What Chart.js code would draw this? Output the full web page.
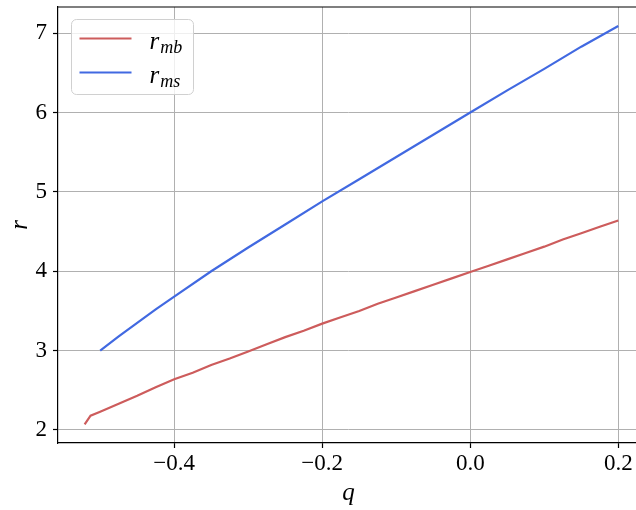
<!DOCTYPE html>
<html>
<head>
<meta charset="utf-8">
<script src="https://cdn.jsdelivr.net/npm/chart.js@4"></script>
<style>
  html, body { margin: 0; padding: 0; background: #fff; overflow: hidden; width: 636px; height: 510px; }
  #wrap { width: 645px; height: 510px; }
</style>
</head>
<body>
<div id="wrap"><canvas id="c" width="645" height="510"></canvas></div>
<script>
// ---- data ----
const rmbQ = [-0.521, -0.513, -0.5, -0.475, -0.45, -0.425, -0.4, -0.375, -0.35, -0.325, -0.3, -0.275, -0.25, -0.225, -0.2, -0.175, -0.15, -0.125, -0.1, -0.075, -0.05, -0.025, 0.0, 0.025, 0.05, 0.075, 0.1, 0.125, 0.15, 0.175, 0.2];
const rmbR = [2.07, 2.18, 2.23, 2.33, 2.43, 2.54, 2.64, 2.72, 2.82, 2.90, 2.99, 3.08, 3.17, 3.25, 3.34, 3.42, 3.50, 3.59, 3.67, 3.75, 3.83, 3.91, 3.99, 4.07, 4.15, 4.23, 4.31, 4.40, 4.48, 4.56, 4.64];
const rmsQ = [-0.5, -0.475, -0.45, -0.425, -0.4, -0.35, -0.3, -0.25, -0.2, -0.15, -0.1, -0.05, 0.0, 0.05, 0.1, 0.15, 0.2];
const rmsR = [3.00, 3.18, 3.35, 3.52, 3.68, 4.00, 4.30, 4.59, 4.88, 5.16, 5.44, 5.72, 6.00, 6.28, 6.55, 6.83, 7.09];
const xTicks = [-0.4, -0.2, 0.0, 0.2];
const yTicks = [2, 3, 4, 5, 6, 7];
const seriesLabels = ['r_mb', 'r_ms'];
const xTitle = 'q';
const yTitle = 'r';

const FONT = "'Liberation Serif', 'Times New Roman', serif";
const toPts = (qs, rs) => qs.map((q, i) => ({ x: q, y: rs[i] }));

const frame = {
  id: 'frame',
  afterDatasetsDraw(chart) {
    const { ctx, chartArea: a } = chart;
    ctx.save();
    ctx.strokeStyle = '#000';
    ctx.lineWidth = 1.2;
    ctx.beginPath();
    ctx.moveTo(a.left, a.top);
    ctx.lineTo(a.right, a.top);
    ctx.stroke();
    ctx.restore();
  }
};

const legendPlugin = {
  id: 'mplLegend',
  afterDraw(chart) {
    const { ctx, chartArea: a } = chart;
    const x0 = a.left + 13.5, y0 = a.top + 12.5, w = 122, h = 75, r = 5;
    ctx.save();
    ctx.beginPath();
    ctx.moveTo(x0 + r, y0);
    ctx.arcTo(x0 + w, y0, x0 + w, y0 + h, r);
    ctx.arcTo(x0 + w, y0 + h, x0, y0 + h, r);
    ctx.arcTo(x0, y0 + h, x0, y0, r);
    ctx.arcTo(x0, y0, x0 + w, y0, r);
    ctx.closePath();
    ctx.fillStyle = 'rgba(255,255,255,0.8)';
    ctx.fill();
    ctx.strokeStyle = '#d0d0d0';
    ctx.lineWidth = 1;
    ctx.stroke();
    chart.data.datasets.forEach((ds, i) => {
      const ly = y0 + 19 + i * 34;
      ctx.strokeStyle = ds.borderColor;
      ctx.lineWidth = 2.2;
      ctx.beginPath();
      ctx.moveTo(x0 + 8, ly);
      ctx.lineTo(x0 + 60, ly);
      ctx.stroke();
      const [base, sub] = ds.label.split('_');
      ctx.fillStyle = '#000';
      ctx.textBaseline = 'alphabetic';
      ctx.textAlign = 'left';
      ctx.font = 'italic 25px ' + FONT;
      const tx = x0 + 78;
      ctx.fillText(base, tx, ly + 10);
      const bw = ctx.measureText(base).width;
      ctx.font = 'italic 18px ' + FONT;
      ctx.fillText(sub, tx + bw + 1, ly + 14);
    });
    ctx.restore();
  }
};

new Chart(document.getElementById('c'), {
  type: 'line',
  data: {
    datasets: [
      { label: seriesLabels[0], data: toPts(rmbQ, rmbR), borderColor: '#cd5c5c', borderWidth: 2.2, pointRadius: 0, tension: 0, fill: false },
      { label: seriesLabels[1], data: toPts(rmsQ, rmsR), borderColor: '#4169e1', borderWidth: 2.2, pointRadius: 0, tension: 0, fill: false }
    ]
  },
  options: {
    responsive: false,
    animation: false,
    devicePixelRatio: 1,
    layout: { padding: { top: 7, right: 6, left: 0, bottom: 0 } },
    plugins: { legend: { display: false }, tooltip: { enabled: false } },
    scales: {
      x: {
        type: 'linear',
        min: -0.557,
        max: 0.228,
        afterBuildTicks: s => { s.ticks = xTicks.map(v => ({ value: v })); },
        afterFit: s => { s.height = 67; s.paddingLeft = 0; s.paddingRight = 0; },
        ticks: {
          color: '#000',
          font: { family: FONT, size: 23 },
          padding: 2,
          maxRotation: 0,
          autoSkip: false,
          callback: v => Number(v).toFixed(1).replace('-', '\u2212')
        },
        grid: { color: '#b0b0b0', lineWidth: 1, tickColor: '#000', tickLength: 5, tickWidth: 1.2 },
        border: { display: true, color: '#000', width: 1.2 },
        title: { display: true, text: xTitle, color: '#000', font: { family: FONT, size: 25, style: 'italic' }, padding: { top: 0, bottom: 2 } }
      },
      y: {
        type: 'linear',
        min: 1.836,
        max: 7.33,
        afterBuildTicks: s => { s.ticks = yTicks.map(v => ({ value: v })); },
        afterFit: s => { s.width = 58; s.paddingTop = 0; s.paddingBottom = 0; },
        ticks: {
          color: '#000',
          font: { family: FONT, size: 23 },
          padding: 6,
          autoSkip: false,
          callback: v => String(v)
        },
        grid: { color: '#b0b0b0', lineWidth: 1, tickColor: '#000', tickLength: 5, tickWidth: 1.2 },
        border: { display: true, color: '#000', width: 1.2 },
        title: { display: true, text: yTitle, color: '#000', font: { family: FONT, size: 25, style: 'italic' }, padding: { top: 5, bottom: 0 } }
      }
    }
  },
  plugins: [frame, legendPlugin]
});
</script>
</body>
</html>
